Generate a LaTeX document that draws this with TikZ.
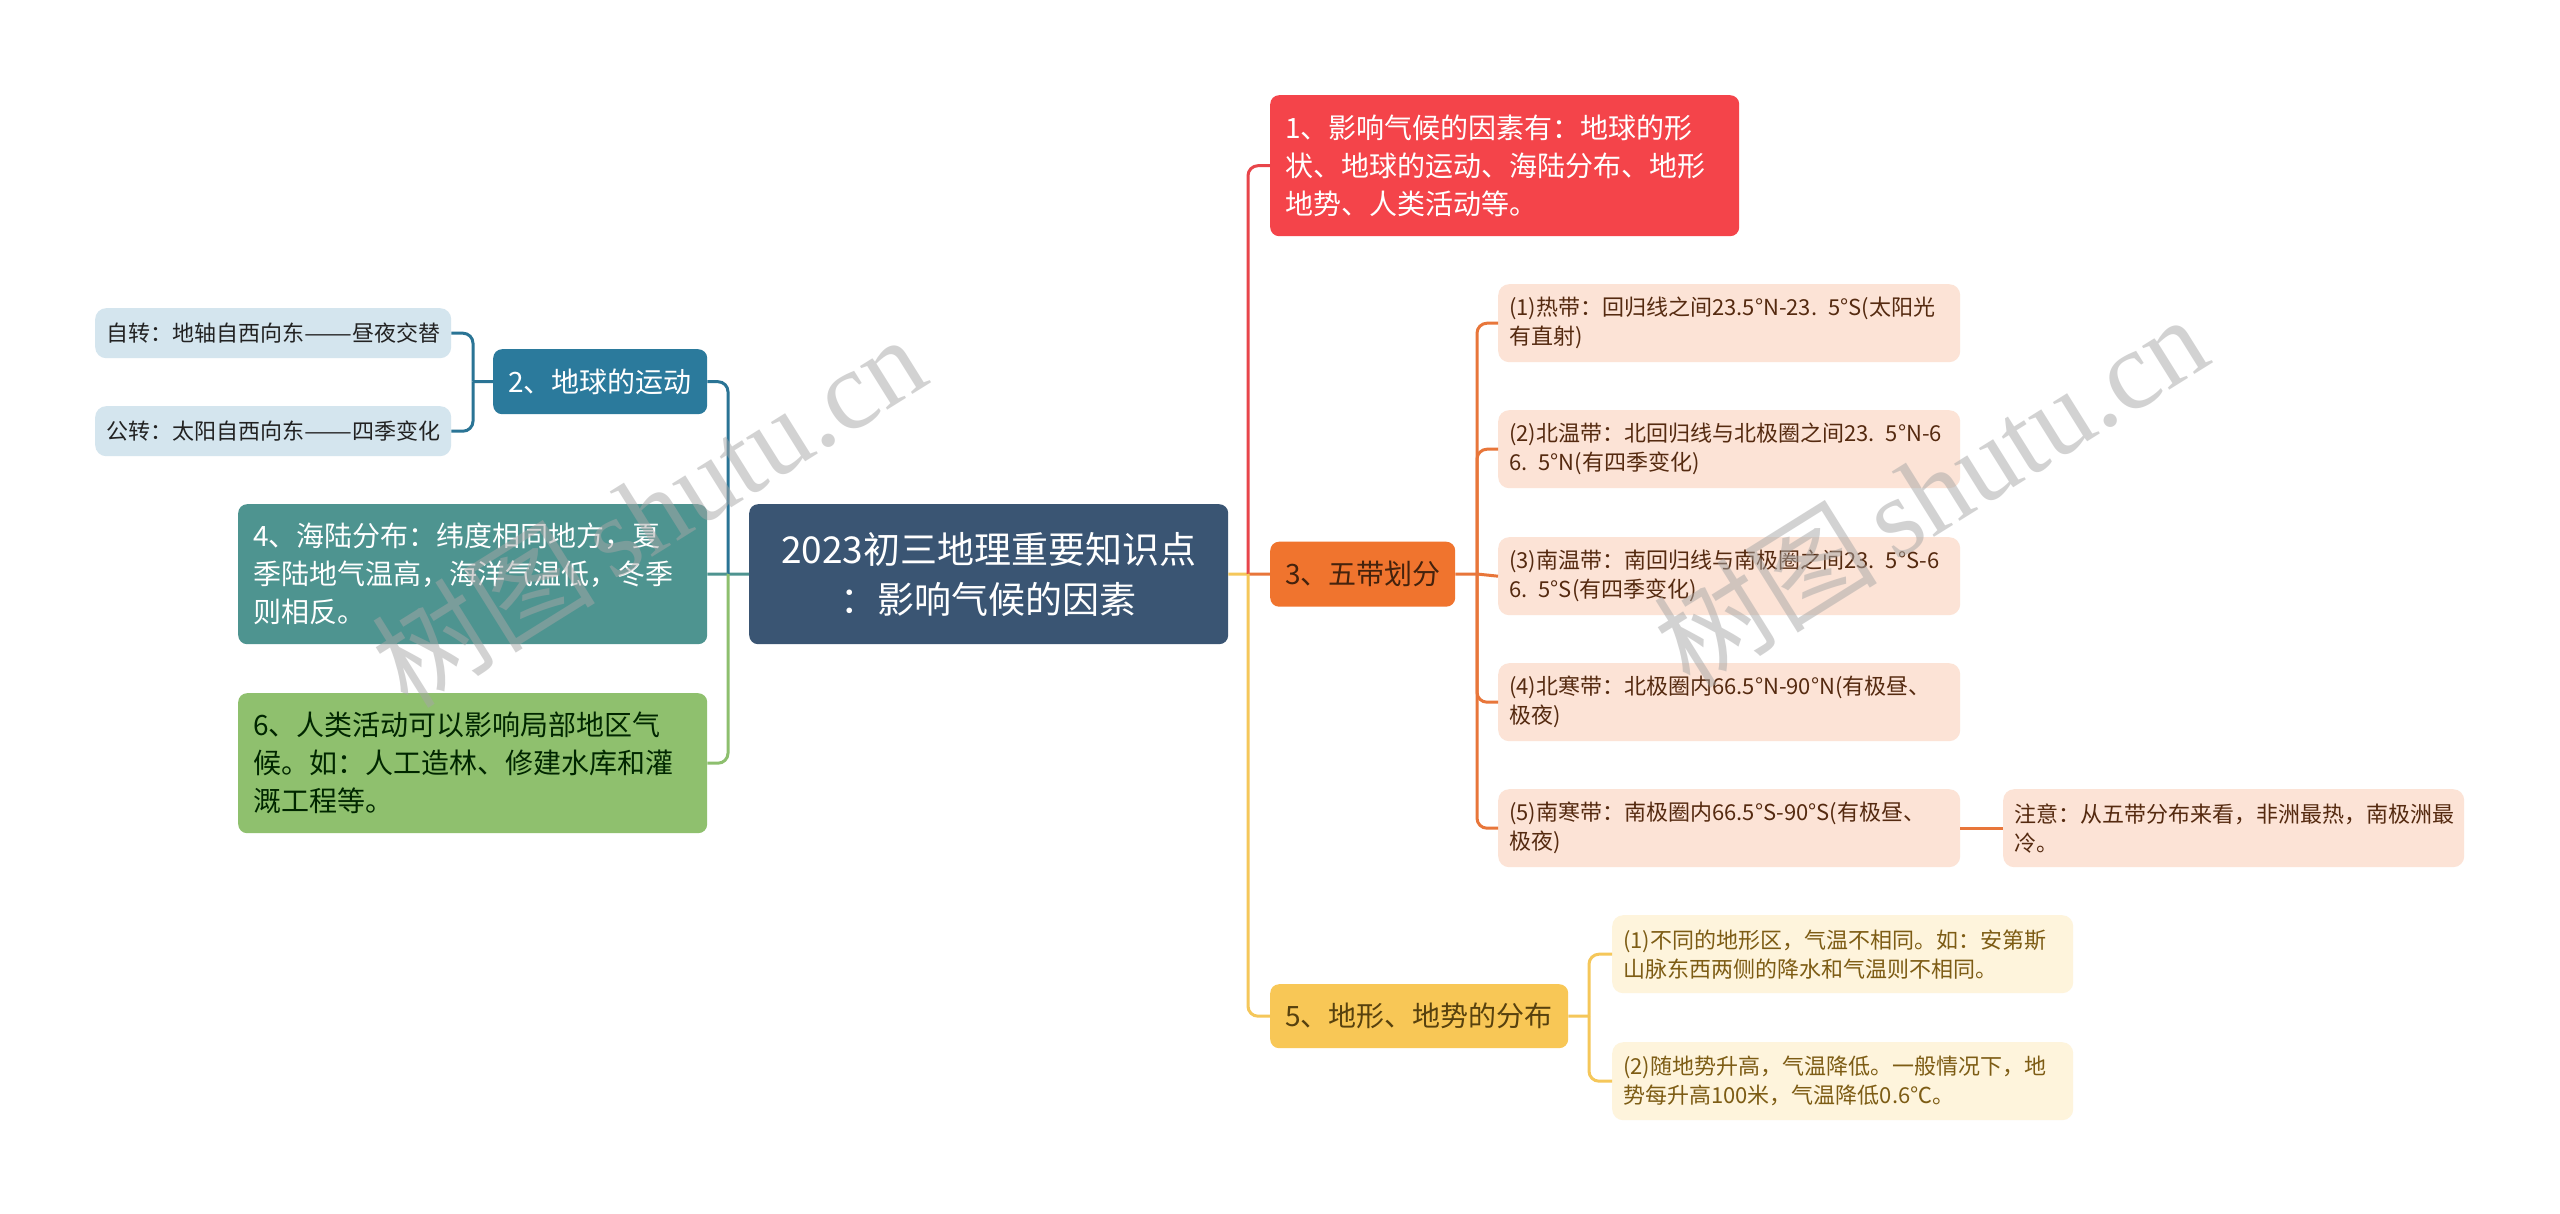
\documentclass[tikz,border=0pt]{standalone}
\usepackage{fontspec}
\setmainfont{Noto Sans CJK SC}
\newfontfamily\wmlatin{Liberation Serif}
\newfontfamily\wmcjk{Noto Sans CJK SC}
\newcommand{\longdash}{\scalebox{1.3}[1]{——}}
\definecolor{rootc}{HTML}{3A5573}
\definecolor{redc}{HTML}{F4444A}
\definecolor{orangec}{HTML}{F0742E}
\definecolor{yellowc}{HTML}{F8C756}
\definecolor{bluec}{HTML}{2B7A9C}
\definecolor{tealc}{HTML}{4E9490}
\definecolor{greenc}{HTML}{8FC06E}
\definecolor{zonefill}{HTML}{FCE3D6}
\definecolor{zonetext}{HTML}{552A10}
\definecolor{ysubfill}{HTML}{FEF4DC}
\definecolor{ysubtext}{HTML}{7D5C14}
\definecolor{bsubfill}{HTML}{D4E5EE}
\definecolor{bsubtext}{HTML}{222222}
\definecolor{redl}{HTML}{E8454A}
\definecolor{orangel}{HTML}{E8763A}
\definecolor{yellowl}{HTML}{F5C75A}
\definecolor{bluel}{HTML}{2A7495}
\definecolor{teall}{HTML}{4E9490}
\definecolor{greenl}{HTML}{8DBF6E}
\begin{document}
\begin{tikzpicture}[x=1pt,y=-1pt,
  box/.style={anchor=north west, rectangle, rounded corners=9pt, inner ysep=0pt, align=left},
  bigfont/.style={font=\fontsize{28}{38}\selectfont},
  smallfont/.style={font=\fontsize{22}{29}\selectfont},
  mainbox/.style={box, bigfont, inner xsep=15pt},
  subbox/.style={box, smallfont, inner xsep=11pt, rounded corners=11pt},
  conn/.style={line width=3pt, rounded corners=10pt},
  wm/.style={text=black!35, opacity=0.5, inner sep=0pt}
]
\useasboundingbox (0,0) rectangle (2560,1214);
\fill[white] (0,0) rectangle (2560,1214);

% root
\node[box, fill=rootc, text=white, align=center, font=\fontsize{37}{50}\selectfont,
  inner xsep=10pt, minimum width=479pt, minimum height=140pt, text width=459pt]
  (root) at (749,504) {2023初三地理重要知识点\\：影响气候的因素};

% right branches
\node[mainbox, fill=redc, text=white, minimum width=469pt, minimum height=141pt, text width=439pt]
  (n1) at (1270,95) {1、影响气候的因素有：地球的形\\状、地球的运动、海陆分布、地形\\地势、人类活动等。};
\node[mainbox, fill=orangec, text=zonetext!80!black, minimum width=185pt, minimum height=65pt, text width=155pt]
  (n3) at (1270,541.5) {3、五带划分};
\node[mainbox, fill=yellowc, text=ysubtext!70!black, minimum width=298pt, minimum height=64pt, text width=268pt]
  (n5) at (1270,984) {5、地形、地势的分布};

% zones
\node[subbox, fill=zonefill, text=zonetext, minimum width=462pt, minimum height=78pt, text width=440pt]
  (z1) at (1498,284) {(1)热带：回归线之间23.5°N-23. 5°S(太阳光\\有直射)};
\node[subbox, fill=zonefill, text=zonetext, minimum width=462pt, minimum height=78pt, text width=440pt]
  (z2) at (1498,410) {(2)北温带：北回归线与北极圈之间23. 5°N-6\\6. 5°N(有四季变化)};
\node[subbox, fill=zonefill, text=zonetext, minimum width=462pt, minimum height=78pt, text width=440pt]
  (z3) at (1498,537) {(3)南温带：南回归线与南极圈之间23. 5°S-6\\6. 5°S(有四季变化)};
\node[subbox, fill=zonefill, text=zonetext, minimum width=462pt, minimum height=78pt, text width=440pt]
  (z4) at (1498,663) {(4)北寒带：北极圈内66.5°N-90°N(有极昼、\\极夜)};
\node[subbox, fill=zonefill, text=zonetext, minimum width=462pt, minimum height=78pt, text width=440pt]
  (z5) at (1498,789) {(5)南寒带：南极圈内66.5°S-90°S(有极昼、\\极夜)};
\node[subbox, fill=zonefill, text=zonetext, minimum width=461pt, minimum height=78pt, text width=439pt]
  (note) at (2003,789) {注意：从五带分布来看，非洲最热，南极洲最\\冷。};

% terrain subs
\node[subbox, fill=ysubfill, text=ysubtext, minimum width=461pt, minimum height=78pt, text width=439pt]
  (y1) at (1612,915) {(1)不同的地形区，气温不相同。如：安第斯\\山脉东西两侧的降水和气温则不相同。};
\node[subbox, fill=ysubfill, text=ysubtext, minimum width=461pt, minimum height=78pt, text width=439pt]
  (y2) at (1612,1042) {(2)随地势升高，气温降低。一般情况下，地\\势每升高100米，气温降低0.6℃。};

% left branches
\node[mainbox, fill=bluec, text=white, minimum width=214pt, minimum height=65pt, text width=184pt]
  (n2) at (493,349) {2、地球的运动};
\node[subbox, fill=bsubfill, text=bsubtext, minimum width=356pt, minimum height=50pt, text width=334pt]
  (s1) at (95,308) {自转：地轴自西向东\longdash 昼夜交替};
\node[subbox, fill=bsubfill, text=bsubtext, minimum width=356pt, minimum height=50pt, text width=334pt]
  (s2) at (95,406) {公转：太阳自西向东\longdash 四季变化};
\node[mainbox, fill=tealc, text=white, minimum width=469pt, minimum height=140pt, text width=439pt]
  (n4) at (238,504) {4、海陆分布：纬度相同地方，夏\\季陆地气温高，海洋气温低，冬季\\则相反。};
\node[mainbox, fill=greenc, text=black!85!green, minimum width=469pt, minimum height=140pt, text width=439pt]
  (n6) at (238,693) {6、人类活动可以影响局部地区气\\候。如：人工造林、修建水库和灌\\溉工程等。};

% connectors right
\coordinate (rt) at (1248,574);
\draw[line width=3pt, yellowl] (root.east) -- (rt);
\draw[conn, redl] (rt) |- (n1.west);
\draw[conn, orangel] (rt) -- (n3.west);
\draw[conn, yellowl] (rt) |- (n5.west);

\coordinate (zt) at (1477,574);
\draw[conn, orangel] (n3.east) -- (zt);
\draw[conn, orangel] (zt) |- (z1.west);
\draw[conn, orangel] (zt) |- (z2.west);
\draw[conn, orangel] (zt) -- (z3.west);
\draw[conn, orangel] (zt) |- (z4.west);
\draw[conn, orangel] (zt) |- (z5.west);
\draw[conn, orangel] (z5.east) -- (note.west);

\coordinate (yt) at (1589,1016);
\draw[conn, yellowl] (n5.east) -- (yt);
\draw[conn, yellowl] (yt) |- (y1.west);
\draw[conn, yellowl] (yt) |- (y2.west);

% connectors left
\coordinate (lt) at (728,574);
\draw[line width=3pt, teall] (root.west) -- (lt);
\draw[conn, bluel] (lt) |- (n2.east);
\draw[conn, teall] (lt) -- (n4.east);
\draw[conn, greenl] (lt) |- (n6.east);

\coordinate (bt) at (473,381.5);
\draw[conn, bluel] (n2.west) -- (bt);
\draw[conn, bluel] (bt) |- (s1.east);
\draw[conn, bluel] (bt) |- (s2.east);

% watermarks
\node[wm, rotate=32] (wm1) at (648,510) {\fontsize{112}{112}\selectfont\wmcjk 树图\,\wmlatin shutu.cn};
\node[wm, rotate=32] (wm2) at (1930,490) {\fontsize{112}{112}\selectfont\wmcjk 树图\,\wmlatin shutu.cn};
\end{tikzpicture}
\end{document}
